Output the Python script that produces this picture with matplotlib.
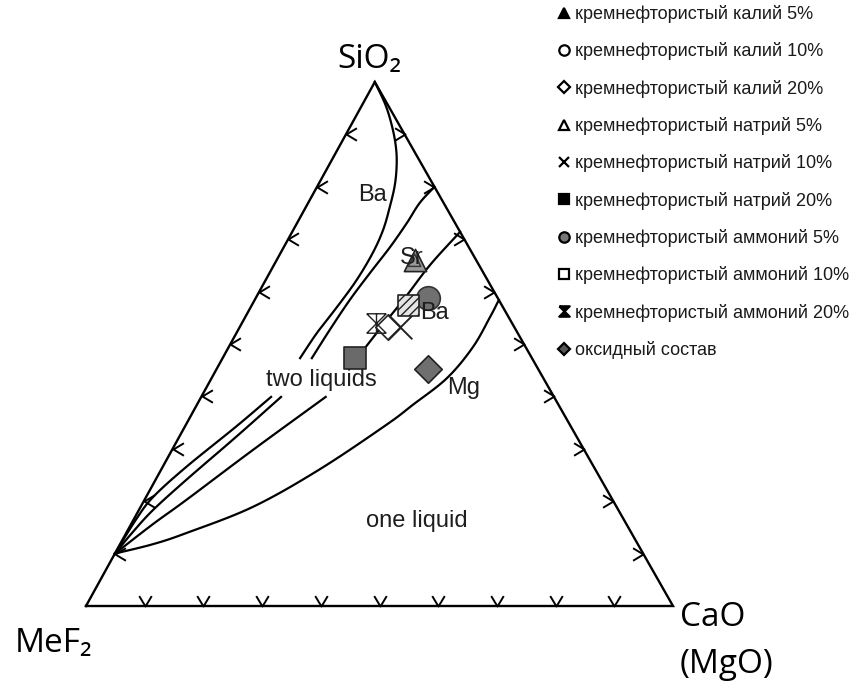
import matplotlib
matplotlib.use('Agg')
import matplotlib.pyplot as plt
from matplotlib.path import Path
from matplotlib.lines import Line2D
import numpy as np

W, H = 858, 685

# compositions as mole fractions: SiO2 and CaO, MeF2 = 1 - SiO2 - CaO
labels = ['кремнефтористый калий 5%', 'кремнефтористый калий 10%',
          'кремнефтористый калий 20%', 'кремнефтористый натрий 5%',
          'кремнефтористый натрий 10%', 'кремнефтористый натрий 20%',
          'кремнефтористый аммоний 5%', 'кремнефтористый аммоний 10%',
          'кремнефтористый аммоний 20%', 'оксидный состав']
pt_sio2 = [0.660, 0.588, 0.532, 0.660, 0.532, 0.473, 0.588, 0.573, 0.540, 0.452]
pt_cao = [0.235, 0.293, 0.252, 0.235, 0.274, 0.225, 0.293, 0.267, 0.228, 0.360]

# boundary curves, split where labels interrupt them
ba_up_sio2 = [1.0, 0.956, 0.914, 0.876, 0.842, 0.803, 0.761, 0.718, 0.674, 0.622, 0.571, 0.521, 0.473]
ba_up_cao = [0.0, 0.040, 0.072, 0.097, 0.115, 0.131, 0.143, 0.153, 0.157, 0.155, 0.147, 0.137, 0.132]
ba_lo_sio2 = [0.399, 0.342, 0.265, 0.208, 0.165, 0.100]
ba_lo_cao = [0.119, 0.087, 0.040, 0.012, 0.004, 0.0]

sr_up_sio2 = [0.800, 0.769, 0.731, 0.685, 0.635, 0.584, 0.527, 0.473]
sr_up_cao = [0.200, 0.190, 0.187, 0.181, 0.171, 0.162, 0.156, 0.152]
sr_lo_sio2 = [0.399, 0.323, 0.240, 0.183, 0.140, 0.100]
sr_lo_cao = [0.136, 0.097, 0.052, 0.024, 0.010, 0.0]

ba2_up_sio2 = [0.714, 0.651, 0.588, 0.531, 0.473]
ba2_up_cao = [0.286, 0.266, 0.254, 0.241, 0.229]
ba2_lo_sio2 = [0.399, 0.298, 0.202, 0.156, 0.100]
ba2_lo_cao = [0.212, 0.138, 0.071, 0.037, 0.0]

mg_sio2 = [0.584, 0.552, 0.494, 0.435, 0.384, 0.345, 0.260, 0.189, 0.139, 0.118, 0.100]
mg_cao = [0.416, 0.417, 0.416, 0.401, 0.368, 0.341, 0.269, 0.191, 0.102, 0.056, 0.0]

ticks = [0.1, 0.2, 0.3, 0.4, 0.5, 0.6, 0.7, 0.8, 0.9]

APEX = 0.492


def tern(sio2, cao):
    a = np.asarray(sio2, float)
    c = np.asarray(cao, float)
    return c + a * APEX, a


def smooth(x, y, n=12):
    # Catmull-Rom through the read points
    p = np.column_stack([x, y])
    p = np.vstack([2 * p[0] - p[1], p, 2 * p[-1] - p[-2]])
    out = []
    tt = np.linspace(0, 1, n, endpoint=False)[:, None]
    for i in range(1, len(p) - 2):
        p0, p1, p2, p3 = p[i - 1], p[i], p[i + 1], p[i + 2]
        seg = 0.5 * ((2 * p1) + (-p0 + p2) * tt + (2 * p0 - 5 * p1 + 4 * p2 - p3) * tt ** 2
                     + (-p0 + 3 * p1 - 3 * p2 + p3) * tt ** 3)
        out.append(seg)
    out.append(p[-2][None, :])
    out = np.vstack(out)
    return out[:, 0], out[:, 1]


fig = plt.figure(figsize=(W / 100, H / 100), dpi=100)
ax = fig.add_axes([86 / W, 79 / H, 587 / W, 524 / H])
ax.set_xlim(0, 1)
ax.set_ylim(0, 1)
ax.axis('off')

# triangle frame
fx, fy = tern([0, 1, 0, 0], [0, 0, 1, 0])
ax.plot(fx, fy, color='black', lw=1.7, clip_on=False, solid_joinstyle='miter')

# edge tick chevrons
chev_b = Path([(-0.6, 1), (0, 0), (0.6, 1)], [Path.MOVETO, Path.LINETO, Path.LINETO])
chev_l = Path([(1, 0.6), (0, 0), (1, -0.6)], [Path.MOVETO, Path.LINETO, Path.LINETO])
chev_r = Path([(-1, 0.6), (0, 0), (-1, -0.6)], [Path.MOVETO, Path.LINETO, Path.LINETO])
t = np.array(ticks)
kw = dict(linestyle='none', color='black', markersize=15, markeredgewidth=1.4,
          markerfacecolor='none', clip_on=False)
ax.plot(*tern(np.zeros_like(t), t), marker=chev_b, **kw)
ax.plot(*tern(t, np.zeros_like(t)), marker=chev_l, **kw)
ax.plot(*tern(t, 1 - t), marker=chev_r, **kw)

# boundary curves
for s, c in [(ba_up_sio2, ba_up_cao), (ba_lo_sio2, ba_lo_cao),
             (sr_up_sio2, sr_up_cao), (sr_lo_sio2, sr_lo_cao),
             (ba2_up_sio2, ba2_up_cao), (ba2_lo_sio2, ba2_lo_cao),
             (mg_sio2, mg_cao)]:
    ax.plot(*smooth(*tern(s, c)), color='black', lw=1.6, clip_on=False)

# text inside diagram (positions in pixels of the figure)
def ftext(x, y, s, **k):
    fig.text(x / W, 1 - y / H, s, **k)

lab = dict(family='Liberation Sans', fontsize=17, color='#1e1e1e', ha='center', va='center')
ftext(372, 195, 'Ba', **lab)
ftext(412, 258, 'Sr', **lab)
ftext(434, 313, 'Ba', **lab)
ftext(321, 380, 'two liquids', **lab)
ftext(464, 388, 'Mg', **lab)
ftext(417, 521, 'one liquid', **lab)

# data points
x, y = tern(pt_sio2, pt_cao)
ax.scatter(x[1], y[1], s=11 ** 2, marker='o', facecolor='white', edgecolor='#222', zorder=3)
ax.scatter(x[0], y[0], s=16 ** 2, marker='^', facecolor='#9a9a9a', edgecolor='#222', lw=1.2, zorder=4)
ax.scatter(x[3], y[3], s=9 ** 2, marker='^', facecolor='none', edgecolor='#333', lw=1.0, zorder=5)
ax.scatter(x[2], y[2], s=13 ** 2, marker='D', facecolor='white', edgecolor='#222', lw=1.2, zorder=3)
ax.scatter(x[4], y[4], s=17 ** 2, marker='x', color='#222', lw=1.4, zorder=4)
ax.scatter(x[5], y[5], s=16 ** 2, marker='s', facecolor='#6a6a6a', edgecolor='#222', lw=1.2, zorder=4)
ax.scatter(x[6], y[6], s=17 ** 2, marker='o', facecolor='#707070', edgecolor='#333', lw=1.2, zorder=4)
ax.scatter(x[7], y[7], s=15 ** 2, marker='s', facecolor='#e4e4e4', edgecolor='#222', lw=1.2,
           hatch='////', zorder=5)
hourglass = Path([(-1, 1), (1, 1), (-1, -1), (1, -1), (-1, 1), (1, -1), (1, 1), (-1, -1), (0, 1), (0, -1)],
                 [Path.MOVETO, Path.LINETO, Path.MOVETO, Path.LINETO,
                  Path.MOVETO, Path.LINETO, Path.MOVETO, Path.LINETO, Path.MOVETO, Path.LINETO])
ax.scatter(x[8], y[8], s=14 ** 2, marker=hourglass, color='#222', lw=1.0, zorder=4)
ax.scatter(x[9], y[9], s=14 ** 2, marker='D', facecolor='#6f6f6f', edgecolor='#222', lw=1.2, zorder=4)

# corner labels
cl = dict(family=['Open Sans', 'DejaVu Sans'], fontsize=24, color='black', ha='left', va='baseline')
ftext(337, 68, 'SiO₂', **cl)
ftext(15, 652, 'MeF₂', **cl)
ftext(680, 626, 'CaO', **cl)
ftext(680, 673, '(MgO)', **cl)

# legend
hourglass_l = Path([(-1, 1), (1, 1), (0, 0), (-1, -1), (1, -1), (0, 0), (-1, 1)])
styles = [('^', 'black'), ('o', 'white'), ('D', 'white'), ('^', 'white'), ('x', 'black'),
          ('s', 'black'), ('o', '#777777'), ('s', 'white'), (hourglass_l, 'black'), ('D', '#555555')]
handles = []
for m, fc in styles:
    ms = 7.5
    if m == 'D':
        ms = 6
    handles.append(Line2D([], [], linestyle='none', marker=m, markersize=ms,
                          markerfacecolor=fc, markeredgecolor='black', markeredgewidth=1.6))
fig.legend(handles, labels, loc='upper left', bbox_to_anchor=(557 / W, 1 - 5 / H),
           frameon=False, prop={'family': 'Liberation Sans', 'size': 13},
           labelspacing=1.07, handlelength=0.75, handletextpad=0.25,
           borderpad=0, borderaxespad=0, labelcolor='#1a1a1a')

fig.savefig('out.png', dpi=100)
